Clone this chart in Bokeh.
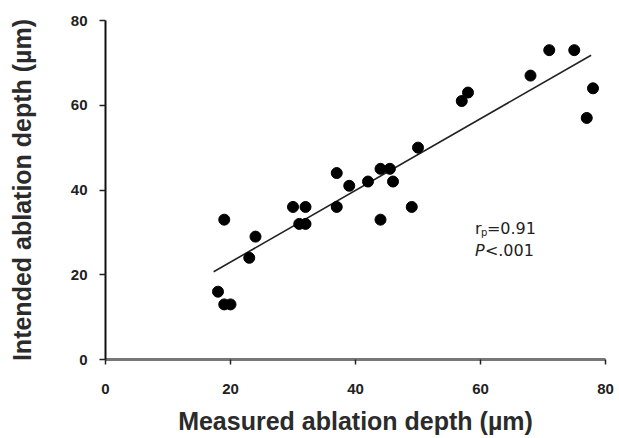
from bokeh.plotting import figure
from bokeh.models import Range1d, FixedTicker, Label, ColumnDataSource
from bokeh.embed import file_html
from bokeh.resources import INLINE

# Data
measured = [18, 19, 20, 19, 23, 24, 30, 32, 31, 32, 37, 37, 39, 42, 44, 45.5, 46, 44, 49, 50, 57, 58, 68, 71, 75, 78, 77]
intended = [16, 13, 13, 33, 24, 29, 36, 36, 32, 32, 44, 36, 41, 42, 45, 45, 42, 33, 36, 50, 61, 63, 67, 73, 73, 64, 57]
fit_x = [17.3, 77.7]
fit_y = [20.7, 71.8]
ticks = [0, 20, 40, 60, 80]

src = ColumnDataSource(dict(x=measured, y=intended))

p = figure(width=619, height=438, output_backend="svg", toolbar_location=None,
           x_range=Range1d(0, 80), y_range=Range1d(0, 80),
           min_border_left=105, min_border_right=14, min_border_top=20, min_border_bottom=79)
p.outline_line_color = None
p.grid.visible = False
p.background_fill_color = "white"

p.line(fit_x, fit_y, line_color="#222222", line_width=1.6)
p.scatter("x", "y", source=src, size=11, fill_color="black", line_color="black")

xa = p.xaxis[0]
ya = p.yaxis[0]
for ax in (xa, ya):
    ax.ticker = FixedTicker(ticks=ticks)
    ax.minor_tick_line_color = None
    ax.major_tick_in = 0
    ax.major_label_text_font = "Liberation Sans"
    ax.major_label_text_font_style = "bold"
    ax.major_label_text_font_size = "15px"
    ax.major_label_text_color = "#222222"
    ax.axis_label_text_font = "Liberation Sans"
    ax.axis_label_text_font_style = "bold"
    ax.axis_label_text_font_size = "25px"
    ax.axis_label_text_color = "#2b2b2b"

xa.axis_label = "Measured ablation depth (µm)"
xa.axis_line_color = "#777777"
xa.axis_line_width = 3
xa.major_tick_line_color = "#222222"
xa.major_tick_line_width = 1.5
xa.major_tick_out = 5
xa.major_label_standoff = 19
xa.axis_label_standoff = 10

ya.axis_label = "Intended ablation depth (µm)"
ya.axis_line_color = "#111111"
ya.axis_line_width = 2
ya.major_tick_line_color = "#222222"
ya.major_tick_line_width = 1.5
ya.major_tick_out = 6
ya.major_label_standoff = 12
ya.major_label_orientation = "horizontal"
ya.axis_label_standoff = 32

font = "DejaVu Sans"
p.add_layout(Label(x=59.1, y=30.9, text="r", text_font=font, text_font_size="16px",
                   text_baseline="alphabetic", text_color="#222222"))
p.add_layout(Label(x=59.1, y=30.9, x_offset=6, y_offset=-4, text="p", text_font=font,
                   text_font_size="10px", text_baseline="alphabetic", text_color="#222222"))
p.add_layout(Label(x=59.1, y=30.9, x_offset=12, text="=0.91", text_font=font, text_font_size="16px",
                   text_baseline="alphabetic", text_color="#222222"))
p.add_layout(Label(x=59.1, y=25.8, text="P", text_font=font, text_font_size="16px",
                   text_font_style="italic", text_baseline="alphabetic", text_color="#222222"))
p.add_layout(Label(x=59.1, y=25.8, x_offset=10, text="<.001", text_font=font, text_font_size="16px",
                   text_baseline="alphabetic", text_color="#222222"))

open("out.html", "w").write(file_html(p, INLINE))
